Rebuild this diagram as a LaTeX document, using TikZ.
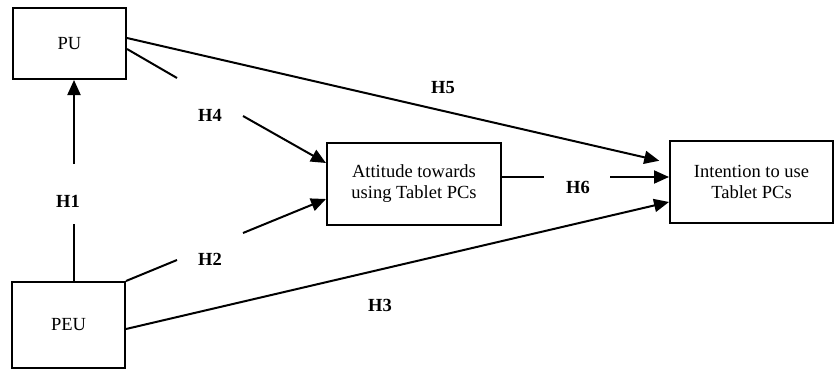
\documentclass[tikz,border=0pt]{standalone}
\usepackage{fontspec}
\setmainfont{Liberation Serif}
\usetikzlibrary{arrows.meta}
\begin{document}
\begin{tikzpicture}[x=1pt, y=-1pt, line width=2pt, font=\fontsize{18.5}{21}\selectfont,
                    box/.style = {draw, rectangle, inner sep=0pt, align=center},
                    hyp/.style = {font=\fontsize{18.5}{21}\selectfont\bfseries},
                    arr/.style = {-{Triangle[length=15pt, width=13pt]}}]
    \useasboundingbox (0,0) rectangle (835,369);
    % nodes of the model
    \node[box, minimum width=113pt, minimum height=71pt] (PU) at (69.5,43.5) {PU};
    \node[box, minimum width=113pt, minimum height=86pt] (PEU) at (68.5,325) {PEU};
    \node[box, minimum width=174pt, minimum height=82pt] (att) at (414,184) {Attitude towards\\using Tablet PCs};
    \node[box, minimum width=163pt, minimum height=82pt] (int) at (751.5,182) {Intention to use\\Tablet PCs};

    % hypothesis labels
    \node[hyp] (h1) at (68,201) {H1};
    \node[hyp] (h2) at (210,259) {H2};
    \node[hyp] (h3) at (380,305) {H3};
    \node[hyp] (h4) at (210,115) {H4};
    \node[hyp] (h5) at (443,88) {H5};
    \node[hyp] (h6) at (578,187) {H6};

    % ends of the broken lines
    \coordinate (h1a) at (74,164);
    \coordinate (h1b) at (74,224);
    \coordinate (h2a) at (177,260);
    \coordinate (h2b) at (243,233);
    \coordinate (h4a) at (177,78);
    \coordinate (h4b) at (243,116);
    \coordinate (h6a) at (544,177);
    \coordinate (h6b) at (610,177);

    \draw ([xshift=5.5pt]PEU.north) -- (h1b);
    \draw[arr] (h1a) -- ([xshift=4.5pt]PU.south);
    \draw (PEU.north east) -- (h2a);
    \draw[arr] (h2b) -- ([yshift=-15pt]att.west);
    \draw[arr] ([yshift=-4pt]PEU.east) -- ([yshift=-20pt]int.west);
    \draw ([yshift=-5.5pt]PU.east) -- (h4a);
    \draw[arr] (h4b) -- ([yshift=21pt]att.west);
    \draw[arr, shorten >=10pt] ([yshift=5.5pt]PU.east) -- ([yshift=19pt]int.west);
    \draw ([yshift=7pt]att.east) -- (h6a);
    \draw[arr] (h6b) -- ([yshift=5pt]int.west);
\end{tikzpicture}
\end{document}
